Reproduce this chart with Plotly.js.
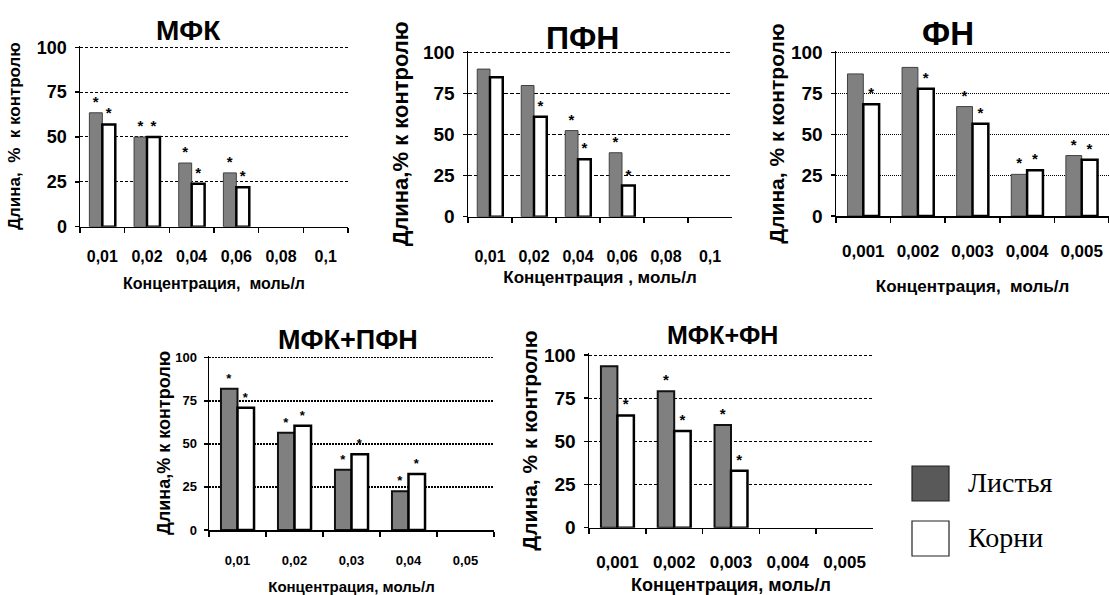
<!DOCTYPE html>
<html><head><meta charset="utf-8">
<script src="https://cdn.plot.ly/plotly-3.0.1.min.js"></script>
<style>html,body{margin:0;padding:0;background:#fff}#chart{width:1109px;height:595px}</style>
</head><body><div id="chart"></div>
<script>
// ---------- data ----------
const seriesNames = ['Листья', 'Корни'];

const mfkTitle = 'МФК';
const mfkCats = ['0,01', '0,02', '0,04', '0,06', '0,08', '0,1'];
const mfkLeaves = [63.5, 50, 35.5, 30, null, null];
const mfkRoots = [57, 50, 24, 22, null, null];
const mfkLeavesStar = ['*', '*', '*', '*', '', ''];
const mfkRootsStar = ['*', '*', '*', '*', '', ''];

const pfnTitle = 'ПФН';
const pfnCats = ['0,01', '0,02', '0,04', '0,06', '0,08', '0,1'];
const pfnLeaves = [90, 80, 52.5, 39, null, null];
const pfnRoots = [85, 61, 35, 19, null, null];
const pfnLeavesStar = ['', '', '*', '*', '', ''];
const pfnRootsStar = ['', '*', '*', '*', '', ''];

const fnTitle = 'ФН';
const fnCats = ['0,001', '0,002', '0,003', '0,004', '0,005'];
const fnLeaves = [87, 91, 67, 25.5, 37];
const fnRoots = [68.5, 78, 56.5, 28, 34.5];
const fnLeavesStar = ['', '', '*', '*', '*'];
const fnRootsStar = ['*', '*', '*', '*', '*'];

const mpTitle = 'МФК+ПФН';
const mpCats = ['0,01', '0,02', '0,03', '0,04', '0,05'];
const mpLeaves = [82, 56.5, 35, 22.5, null];
const mpRoots = [71, 60.5, 44, 32.5, null];
const mpLeavesStar = ['*', '*', '*', '*', ''];
const mpRootsStar = ['*', '*', '*', '*', ''];

const mfTitle = 'МФК+ФН';
const mfCats = ['0,001', '0,002', '0,003', '0,004', '0,005'];
const mfLeaves = [93.5, 79, 59.5, null, null];
const mfRoots = [65, 56, 33, null, null];
const mfLeavesStar = ['', '*', '*', '', ''];
const mfRootsStar = ['*', '*', '*', '', ''];

const yTicks = [0, 25, 50, 75, 100];

// ---------- layout helpers ----------
const W = 1109, H = 595;
const F = 'Liberation Sans, Arial, Helvetica, sans-serif';
const FS = 'Liberation Serif, Times New Roman, serif';
const YMAX = 101; // a little headroom so the 100 grid line is drawn

const panels = [
  {title: mfkTitle, cats: mfkCats, L: mfkLeaves, R: mfkRoots, LS: mfkLeavesStar, RS: mfkRootsStar,
   xt: 'Концентрация,  моль/л', yt: 'Длина,  %  к контролю',
   x0: 80, x1: 348, yb: 226.7, yt100: 47.3, grid: '3px,2px', gw: 1,
   tf: 28, tx: 188, ty: 30, xtf: 16, ytf: 18, xtitf: 16, ytitf: 17, xls: 15, xts: 13, yts: 12, starF: 15, lw: 1},
  {title: pfnTitle, cats: pfnCats, L: pfnLeaves, R: pfnRoots, LS: pfnLeavesStar, RS: pfnRootsStar,
   xt: 'Концентрация , моль/л', yt: 'Длина,% к контролю',
   x0: 468, x1: 732, yb: 216.7, yt100: 52.7, grid: '4px,2px', gw: 1,
   tf: 32, tx: 582, ty: 38, xtf: 16, ytf: 19, xtitf: 17, ytitf: 22, xls: 25, xts: 6, yts: 8, starF: 15, lw: 1},
  {title: fnTitle, cats: fnCats, L: fnLeaves, R: fnRoots, LS: fnLeavesStar, RS: fnRootsStar,
   xt: 'Концентрация,  моль/л', yt: 'Длина, % к контролю',
   x0: 836, x1: 1109, yb: 216, yt100: 52.7, grid: '1px,1px', gw: 1,
   tf: 33, tx: 948, ty: 33, xtf: 17, ytf: 19, xtitf: 17, ytitf: 21, xls: 19, xts: 20, yts: 0, starF: 15, lw: 1},
  {title: mpTitle, cats: mpCats, L: mpLeaves, R: mpRoots, LS: mpLeavesStar, RS: mpRootsStar,
   xt: 'Концентрация, моль/л', yt: 'Длина,% к контролю',
   x0: 209, x1: 494, yb: 530, yt100: 357.7, grid: '1.5px,1.5px', gw: 1.5,
   tf: 27, tx: 348, ty: 340, xtf: 13, ytf: 13, xtitf: 15, ytitf: 18, xls: 18, xts: 16, yts: 0, starF: 13, lw: 2},
  {title: mfTitle, cats: mfCats, L: mfLeaves, R: mfRoots, LS: mfLeavesStar, RS: mfRootsStar,
   xt: 'Концентрация, моль/л', yt: 'Длина, % к контролю',
   x0: 589, x1: 873, yb: 527.7, yt100: 355, grid: '3px,2px', gw: 1,
   tf: 25, tx: 722, ty: 335, xtf: 17, ytf: 19, xtitf: 18, ytitf: 21, xls: 18, xts: 17, yts: 0, starF: 15, lw: 2}
];

const data = [];
const layout = {
  width: W, height: H,
  margin: {l: 0, r: 0, t: 0, b: 0},
  paper_bgcolor: '#fff', plot_bgcolor: 'rgba(0,0,0,0)',
  barmode: 'group', bargap: 0.42, bargroupgap: 0,
  showlegend: false,
  annotations: [], shapes: [],
  font: {family: F, color: '#000'}
};

panels.forEach((p, i) => {
  const s = i === 0 ? '' : String(i + 1);
  const xa = 'x' + s, ya = 'y' + s;
  data.push({
    type: 'bar', x: p.cats, y: p.L, xaxis: xa, yaxis: ya, name: seriesNames[0],
    marker: {color: '#808080', line: {color: p.lw > 1 ? '#111' : '#404040', width: p.lw}},
    text: p.LS, textposition: 'outside', constraintext: 'none', cliponaxis: false,
    textfont: {family: F, size: p.starF, color: '#000', weight: 'bold'}, hoverinfo: 'skip'
  });
  data.push({
    type: 'bar', x: p.cats, y: p.R, xaxis: xa, yaxis: ya, name: seriesNames[1],
    marker: {color: '#ffffff', line: {color: '#000', width: 2.5}},
    text: p.RS, textposition: 'outside', constraintext: 'none', cliponaxis: false,
    textfont: {family: F, size: p.starF, color: '#000', weight: 'bold'}, hoverinfo: 'skip'
  });
  const top = p.yb - (p.yb - p.yt100) * YMAX / 100;
  layout['xaxis' + s] = {
    domain: [p.x0 / W, p.x1 / W], anchor: ya, type: 'category',
    categoryorder: 'array', categoryarray: p.cats, range: [-0.5, p.cats.length - 0.5],
    showline: true, linecolor: '#000', linewidth: 1.5,
    ticks: 'outside', tickson: 'boundaries', ticklen: 5, tickwidth: 1.5, tickcolor: '#000',
    showgrid: false, zeroline: false, fixedrange: true,
    tickfont: {family: F, size: p.xtf, color: '#000', weight: 'bold'},
    ticklabelstandoff: p.xls,
    title: {text: p.xt, font: {family: F, size: p.xtitf, color: '#000', weight: 'bold'}, standoff: p.xts}
  };
  layout['yaxis' + s] = {
    domain: [1 - p.yb / H, 1 - top / H], anchor: xa, range: [0, YMAX],
    tickmode: 'array', tickvals: yTicks, ticktext: yTicks.map(String),
    showline: true, linecolor: '#000', linewidth: 1.5,
    ticks: 'outside', ticklen: 4, tickwidth: 1.5, tickcolor: '#000',
    showgrid: true, gridcolor: '#000', gridwidth: p.gw, griddash: p.grid,
    zeroline: false, fixedrange: true,
    tickfont: {family: F, size: p.ytf, color: '#000', weight: 'bold'},
    ticklabelstandoff: 4,
    title: {text: p.yt, font: {family: F, size: p.ytitf, color: '#000', weight: 'bold'}, standoff: p.yts}
  };
  layout.annotations.push({
    text: p.title, xref: 'paper', yref: 'paper', x: p.tx / W, y: 1 - p.ty / H,
    xanchor: 'center', yanchor: 'middle', showarrow: false,
    font: {family: F, size: p.tf, color: '#000', weight: 'bold'}
  });
});

// legend (drawn manually to match the large swatches)
const legendItems = [
  {name: seriesNames[0], fill: '#595959', y0: 466, y1: 501},
  {name: seriesNames[1], fill: '#ffffff', y0: 521, y1: 556}
];
legendItems.forEach(it => {
  layout.shapes.push({
    type: 'rect', xref: 'paper', yref: 'paper',
    x0: 912 / W, x1: 949 / W, y0: 1 - it.y1 / H, y1: 1 - it.y0 / H,
    fillcolor: it.fill, line: {color: '#222', width: 1.2}
  });
  layout.annotations.push({
    text: it.name, xref: 'paper', yref: 'paper', x: 966 / W, y: 1 - ((it.y0 + it.y1) / 2 - 1) / H,
    xanchor: 'left', yanchor: 'middle', showarrow: false,
    font: {family: FS, size: 28, color: '#000'}
  });
});

Plotly.newPlot('chart', data, layout, {staticPlot: true, displayModeBar: false});
</script>
</body></html>
